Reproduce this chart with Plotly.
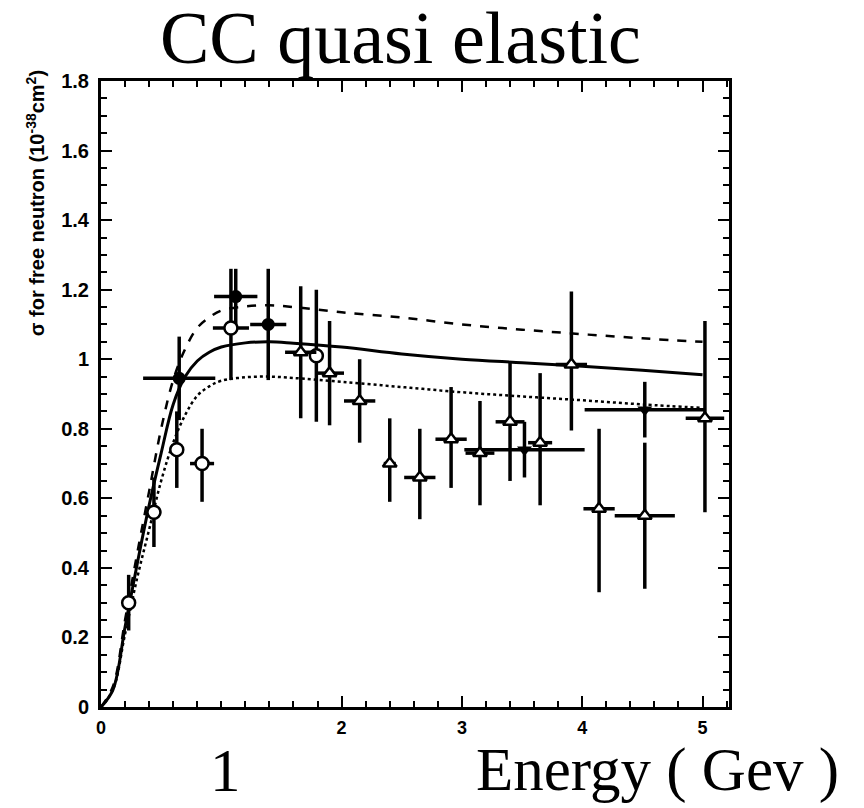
import plotly.graph_objects as go

# ---- theory curves ----
curve_x = [0, 0.1, 0.2, 0.3, 0.4, 0.5, 0.6, 0.7, 0.8, 0.9, 1.0, 1.2, 1.4, 1.6, 2.0, 2.5, 3.0, 3.5, 4.0, 4.5, 5.0]
solid_y = [0, 0.05, 0.23, 0.41, 0.58, 0.73, 0.87, 0.95, 0.995, 1.02, 1.035, 1.047, 1.05, 1.046, 1.035, 1.015, 1.0, 0.99, 0.98, 0.968, 0.955]
dashed_y = [0, 0.06, 0.25, 0.44, 0.62, 0.80, 0.94, 1.03, 1.09, 1.12, 1.14, 1.152, 1.155, 1.15, 1.135, 1.12, 1.10, 1.085, 1.072, 1.06, 1.05]
dotted_y = [0, 0.05, 0.21, 0.37, 0.51, 0.65, 0.76, 0.84, 0.895, 0.922, 0.938, 0.948, 0.95, 0.946, 0.935, 0.92, 0.905, 0.893, 0.882, 0.87, 0.86]

# ---- open circles ----
oc_x = [0.23, 0.44, 0.63, 0.84, 1.08, 1.79]
oc_y = [0.30, 0.56, 0.74, 0.70, 1.09, 1.01]
oc_eyp = [0.08, 0.10, 0.11, 0.10, 0.17, 0.19]
oc_eym = [0.08, 0.10, 0.11, 0.11, 0.15, 0.19]
oc_ex = [0.05, 0.06, 0.06, 0.10, 0.15, 0.06]

# ---- filled circles ----
fc_x = [0.65, 1.12, 1.39]
fc_y = [0.945, 1.18, 1.10]
fc_ey = [0.12, 0.08, 0.16]
fc_ex = [0.30, 0.18, 0.15]

# ---- open triangles ----
tr_x = [1.66, 1.90, 2.15, 2.40, 2.65, 2.91, 3.15, 3.40, 3.65, 3.91, 4.14, 4.52, 5.02]
tr_y = [1.02, 0.96, 0.88, 0.70, 0.66, 0.77, 0.73, 0.82, 0.76, 0.985, 0.57, 0.55, 0.83]
tr_eyp = [0.19, 0.15, 0.12, 0.13, 0.14, 0.15, 0.15, 0.17, 0.20, 0.21, 0.23, 0.21, 0.28]
tr_eym = [0.19, 0.15, 0.12, 0.11, 0.12, 0.14, 0.15, 0.17, 0.18, 0.19, 0.24, 0.21, 0.27]
tr_ex = [0.13, 0.12, 0.13, 0.05, 0.13, 0.13, 0.12, 0.12, 0.10, 0.13, 0.13, 0.25, 0.16]

# ---- filled down triangles ----
dt_x = [3.52, 4.52]
dt_y = [0.74, 0.855]
dt_ey = [0.08, 0.08]
dt_ex = [0.50, 0.50]

# ---- axis ticks ----
x_tickvals = [0, 2, 3, 4, 5]
x_ticktext = ["0", "2", "3", "4", "5"]
y_tickvals = [0, 0.2, 0.4, 0.6, 0.8, 1.0, 1.2, 1.4, 1.6, 1.8]
y_ticktext = ["0", "0.2", "0.4", "0.6", "0.8", "1", "1.2", "1.4", "1.6", "1.8"]

fig = go.Figure()

fig.add_trace(go.Scatter(x=curve_x, y=dashed_y, mode="lines", line=dict(color="black", width=2.5, dash="dash", shape="spline")))
fig.add_trace(go.Scatter(x=curve_x, y=dotted_y, mode="lines", line=dict(color="black", width=2.5, dash="dot", shape="spline")))
fig.add_trace(go.Scatter(x=curve_x, y=solid_y, mode="lines", line=dict(color="black", width=3, shape="spline")))

def eb(arr, arrm=None):
    d = dict(type="data", array=arr, color="black", thickness=3.5, width=0, visible=True)
    if arrm is not None:
        d["arrayminus"] = arrm
        d["symmetric"] = False
    return d

fig.add_trace(go.Scatter(x=fc_x, y=fc_y, mode="markers",
                         marker=dict(symbol="circle", size=13, color="black"),
                         error_y=eb(fc_ey), error_x=eb(fc_ex)))
fig.add_trace(go.Scatter(x=dt_x, y=dt_y, mode="markers",
                         marker=dict(symbol="triangle-down", size=13, color="black"),
                         error_y=eb(dt_ey), error_x=eb(dt_ex)))
fig.add_trace(go.Scatter(x=oc_x, y=oc_y, mode="markers",
                         marker=dict(symbol="circle", size=13, color="white", line=dict(color="black", width=2.5)),
                         error_y=eb(oc_eyp, oc_eym), error_x=eb(oc_ex)))
fig.add_trace(go.Scatter(x=tr_x, y=tr_y, mode="markers",
                         marker=dict(symbol="triangle-up", size=12, color="white", line=dict(color="black", width=2.5)),
                         error_y=eb(tr_eyp, tr_eym), error_x=eb(tr_ex)))

ytickfont = dict(family="Liberation Sans", size=20, color="black", weight="bold")
xtickfont = dict(family="Liberation Sans", size=18, color="black", weight="bold")
XR = [0, 5.22]

fig.update_layout(
    width=856, height=800,
    margin=dict(l=93, r=135, t=73, b=101, autoexpand=False),
    paper_bgcolor="white", plot_bgcolor="white",
    showlegend=False,
    xaxis=dict(range=XR, showgrid=False, zeroline=False,
               showline=True, linecolor="black", linewidth=3, mirror="ticks",
               ticks="inside", ticklen=11, tickwidth=2, tickcolor="black",
               tickvals=x_tickvals, ticktext=x_ticktext,
               tickfont=xtickfont, ticklabelstandoff=2,
               minor=dict(dtick=0.2, ticks="inside", ticklen=6, tickwidth=2, tickcolor="black")),
    xaxis2=dict(range=XR, overlaying="x", anchor="y", side="bottom",
                showgrid=False, zeroline=False, showline=False, showticklabels=False,
                ticks="inside", ticklen=11, tickwidth=2, tickcolor="black", tickvals=[1]),
    yaxis=dict(range=[0, 1.8], showgrid=False, zeroline=False,
               showline=True, linecolor="black", linewidth=3, mirror="ticks",
               ticks="inside", ticklen=11, tickwidth=2, tickcolor="black",
               tickvals=y_tickvals, ticktext=y_ticktext,
               tickfont=ytickfont, ticklabelstandoff=5,
               minor=dict(dtick=0.05, ticks="inside", ticklen=6, tickwidth=2, tickcolor="black")),
)

fig.add_annotation(text="CC quasi elastic", x=0.4777, y=1.068, xref="paper", yref="paper",
                   xanchor="center", yanchor="middle", showarrow=False,
                   font=dict(family="Liberation Serif", size=74, color="black"))
fig.add_annotation(text="1", x=0.199, y=-0.101, xref="paper", yref="paper",
                   xanchor="center", yanchor="middle", showarrow=False,
                   font=dict(family="Liberation Serif", size=61, color="black"))
fig.add_annotation(text="Energy ( Gev )", x=0.886, y=-0.101, xref="paper", yref="paper",
                   xanchor="center", yanchor="middle", showarrow=False,
                   font=dict(family="Liberation Serif", size=61, color="black"))
fig.add_annotation(text="σ for free neutron (10<sup>-38</sup>cm<sup>2</sup>)", x=-0.105, y=0.805,
                   xref="paper", yref="paper", textangle=-90,
                   xanchor="center", yanchor="middle", showarrow=False,
                   font=dict(family="Liberation Sans", size=20, color="black", weight="bold"))

fig.write_html("out.html")
